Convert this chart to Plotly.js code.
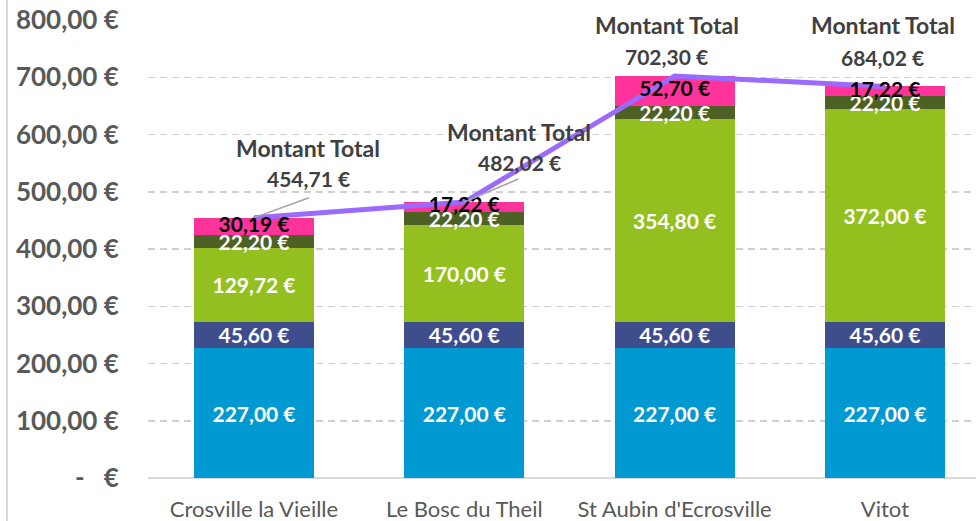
<!DOCTYPE html>
<html><head><meta charset="utf-8">
<script src="https://cdn.plot.ly/plotly-3.0.1.min.js"></script>
<style>html,body{margin:0;padding:0;background:#fff;}#chart{width:976px;height:521px;}</style>
</head><body><div id="chart"></div>
<script>
var categories = ["Crosville la Vieille", "Le Bosc du Theil", "St Aubin d'Ecrosville", "Vitot"];
var part1 = [227.00, 227.00, 227.00, 227.00];
var part2 = [45.60, 45.60, 45.60, 45.60];
var part3 = [129.72, 170.00, 354.80, 372.00];
var part4 = [22.20, 22.20, 22.20, 22.20];
var part5 = [30.19, 17.22, 52.70, 17.22];
var totals = [454.71, 482.02, 702.30, 684.02];
var totalLabel = "Montant Total";
var yTickVals = [0, 100, 200, 300, 400, 500, 600, 700, 800];
var yTickText = ["-   €", "100,00 €", "200,00 €", "300,00 €", "400,00 €", "500,00 €", "600,00 €", "700,00 €", "800,00 €"];

function fmt(v){ return v.toFixed(2).replace('.', ',') + ' €'; }

var colors = ['#0099D2', '#3E4D8C', '#93C01F', '#4C6123', '#FF3399'];
var textColors = ['#FFFFFF', '#FFFFFF', '#FFFFFF', '#FFFFFF', '#000000'];
var parts = [part1, part2, part3, part4, part5];
var FONT = 'Lato, "Open Sans", sans-serif';

var traces = parts.map(function(p, k){
  var last = (k === parts.length - 1);
  return {
    type: 'bar', x: categories, y: p,
    marker: {color: colors[k], line: {width: 0}},
    text: last ? null : p.map(fmt), textposition: last ? 'none' : 'inside', insidetextanchor: 'middle',
    textangle: 0, constraintext: 'none', cliponaxis: false,
    textfont: {family: FONT, size: 21, color: textColors[k], weight: 700},
    hoverinfo: 'skip'
  };
});
traces.push({
  type: 'scatter', mode: 'lines', x: categories, y: totals,
  line: {color: '#9B6BFF', width: 5}, hoverinfo: 'skip'
});
// top-segment labels drawn above the line (as in the reference)
var topMid = part5.map(function(v, i){ return part1[i] + part2[i] + part3[i] + part4[i] + v / 2; });
traces.push({
  type: 'scatter', mode: 'text', x: categories, y: topMid, text: part5.map(fmt),
  textposition: 'middle center', cliponaxis: false,
  textfont: {family: FONT, size: 21, color: textColors[4], weight: 700}, hoverinfo: 'skip'
});

var xs = [54, 55, -8, -2];
var ysTitle = [70, 70, 51, 61];
var ysVal = [39, 40, 19, 29];
var annotations = [];
totals.forEach(function(t, i){
  annotations.push({x: i, y: t, xref: 'x', yref: 'y', text: totalLabel, showarrow: false,
    xshift: xs[i], yshift: ysTitle[i], yanchor: 'middle',
    font: {family: FONT, size: 23, color: '#404040', weight: 700}});
  annotations.push({x: i, y: t, xref: 'x', yref: 'y', text: fmt(t), showarrow: false,
    xshift: xs[i], yshift: ysVal[i], yanchor: 'middle',
    font: {family: FONT, size: 21, color: '#404040', weight: 700}});
});

var calloutDx = [55, 54];
var calloutDy = [20, 23];
var shapes = [
  {type: 'line', xref: 'paper', yref: 'paper', x0: -141/828, x1: -141/828, y0: -0.1, y1: 1.05,
   line: {color: '#D9D9D9', width: 2}}
];
calloutDx.forEach(function(dx, i){
  shapes.push({type: 'line', xref: 'x', yref: 'y', xsizemode: 'pixel', ysizemode: 'pixel',
    xanchor: i, yanchor: totals[i], x0: 0, y0: 0, x1: dx, y1: calloutDy[i],
    line: {color: '#A6A6A6', width: 1.5}});
});

var layout = {
  width: 976, height: 521,
  margin: {l: 148, r: 0, t: 20, b: 43, pad: 0},
  paper_bgcolor: '#FFFFFF', plot_bgcolor: '#FFFFFF',
  barmode: 'stack', bargap: 0.43, showlegend: false,
  xaxis: {type: 'category', range: [-0.504, 3.433], showgrid: false, zeroline: false,
    showline: false, ticks: 'outside', ticklen: 12, tickcolor: 'rgba(0,0,0,0)',
    tickfont: {family: FONT, size: 22, color: '#595959'}, fixedrange: true},
  yaxis: {range: [0, 800], tickvals: yTickVals, ticktext: yTickText,
    showgrid: true, gridcolor: '#D0D0D0', gridwidth: 1.5, griddash: '7px,5px',
    zeroline: true, zerolinecolor: '#D9D9D9', zerolinewidth: 2,
    showline: false, ticks: 'outside', ticklen: 23, tickcolor: 'rgba(0,0,0,0)',
    tickfont: {family: FONT, size: 26, color: '#595959', weight: 700}, fixedrange: true},
  annotations: annotations,
  shapes: shapes
};
Plotly.newPlot('chart', traces, layout, {displayModeBar: false, staticPlot: true});
</script>
</body></html>
